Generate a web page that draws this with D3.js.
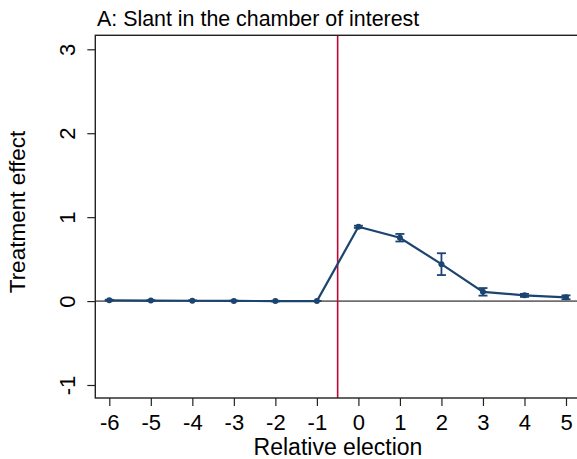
<!DOCTYPE html>
<html>
<head>
<meta charset="utf-8">
<script src="https://cdn.jsdelivr.net/npm/d3@7"></script>
<style>
  body { margin: 0; background: #fff; }
  text { font-family: "Liberation Sans", Arial, Helvetica, sans-serif; fill: #000; }
</style>
</head>
<body>
<div class="home"></div>
<script>
// relative election index and estimated treatment effects with 95% CI
const elections = [-6, -5, -4, -3, -2, -1, 0, 1, 2, 3, 4, 5];
const effect = [0.01, 0.006, 0.004, 0.002, 0.0, 0.0, 0.885, 0.755, 0.44, 0.11, 0.068, 0.045];
const ciLow = [0.004, 0.001, 0.0, -0.002, -0.004, 0.0, 0.872, 0.71, 0.31, 0.065, 0.05, 0.022];
const ciHigh = [0.016, 0.011, 0.008, 0.006, 0.004, 0.0, 0.898, 0.8, 0.57, 0.155, 0.086, 0.068];
const yTicks = [-1, 0, 1, 2, 3];
const cutoff = -0.5;

const width = 577;
const height = 459;

const svg = d3.select(".home").append("svg")
  .attr("width", width)
  .attr("height", height);

// plot region (right side runs off the picture like the original)
const plotLeft = 95.3, plotTop = 35.3, plotBottom = 398, plotRight = 620;

const x = d3.scaleLinear().domain([-6, 5]).range([109.3, 566]);
const y = d3.scaleLinear().domain([-1, 3]).range([385, 49.3]);

// reference lines
svg.append("line")
  .attr("x1", plotLeft).attr("x2", plotRight)
  .attr("y1", y(0)).attr("y2", y(0))
  .style("stroke", "#6e6e6e").style("stroke-width", 1.6);

svg.append("line")
  .attr("x1", x(cutoff)).attr("x2", x(cutoff))
  .attr("y1", plotTop).attr("y2", plotBottom)
  .style("stroke", "#c10534").style("stroke-width", 1.6);

// frame
svg.append("rect")
  .attr("x", plotLeft).attr("y", plotTop)
  .attr("width", plotRight - plotLeft).attr("height", plotBottom - plotTop)
  .style("fill", "none").style("stroke", "#222").style("stroke-width", 1.4);

// x axis
const xAxis = d3.axisBottom(x).tickValues(elections).tickSize(8).tickPadding(8).tickFormat(d3.format("d"));
const gx = svg.append("g").attr("transform", "translate(0," + plotBottom + ")").call(xAxis);
gx.select(".domain").remove();
gx.selectAll(".tick line").style("stroke", "#222").style("stroke-width", 1.2);
gx.selectAll(".tick text").style("font-size", "22px").attr("dy", "0.71em")
  .text(d => d < 0 ? "-" + Math.abs(d) : d);

// y axis, labels rotated
const yAxis = d3.axisLeft(y).tickValues(yTicks).tickSize(8).tickFormat(d3.format("d"));
const gy = svg.append("g").attr("transform", "translate(" + plotLeft + ",0)").call(yAxis);
gy.select(".domain").remove();
gy.selectAll(".tick line").style("stroke", "#222").style("stroke-width", 1.2);
gy.selectAll(".tick text")
  .style("font-size", "22px")
  .attr("x", null).attr("dy", null)
  .attr("text-anchor", "middle")
  .attr("transform", "translate(-20,0) rotate(-90)")
  .text(d => d < 0 ? "-" + Math.abs(d) : d);

// titles
svg.append("text")
  .attr("x", 97).attr("y", 26)
  .style("font-size", "21.4px")
  .text("A: Slant in the chamber of interest");

svg.append("text")
  .attr("x", 338).attr("y", 455)
  .attr("text-anchor", "middle")
  .style("font-size", "23px")
  .text("Relative election");

svg.append("text")
  .attr("transform", "translate(25," + 212 + ") rotate(-90)")
  .attr("text-anchor", "middle")
  .style("font-size", "22.5px")
  .text("Treatment effect");

// series
const navy = "#1c4470";
const pts = elections.map((e, i) => ({ e: e, v: effect[i], lo: ciLow[i], hi: ciHigh[i] }));

const line = d3.line().x(d => x(d.e)).y(d => y(d.v));
svg.append("path")
  .datum(pts)
  .attr("d", line)
  .style("fill", "none")
  .style("stroke", navy)
  .style("stroke-width", 2.2);

// error bars
const bars = svg.selectAll(".ci").data(pts).enter().append("g").attr("class", "ci");
bars.append("line")
  .attr("x1", d => x(d.e)).attr("x2", d => x(d.e))
  .attr("y1", d => y(d.lo)).attr("y2", d => y(d.hi))
  .style("stroke", navy).style("stroke-width", 1.8);
bars.append("line")
  .attr("x1", d => x(d.e) - 4.5).attr("x2", d => x(d.e) + 4.5)
  .attr("y1", d => y(d.lo)).attr("y2", d => y(d.lo))
  .style("stroke", navy).style("stroke-width", 1.8);
bars.append("line")
  .attr("x1", d => x(d.e) - 4.5).attr("x2", d => x(d.e) + 4.5)
  .attr("y1", d => y(d.hi)).attr("y2", d => y(d.hi))
  .style("stroke", navy).style("stroke-width", 1.8);

svg.selectAll(".pt").data(pts).enter().append("circle")
  .attr("class", "pt")
  .attr("cx", d => x(d.e)).attr("cy", d => y(d.v))
  .attr("r", 3)
  .style("fill", navy);
</script>
</body>
</html>
